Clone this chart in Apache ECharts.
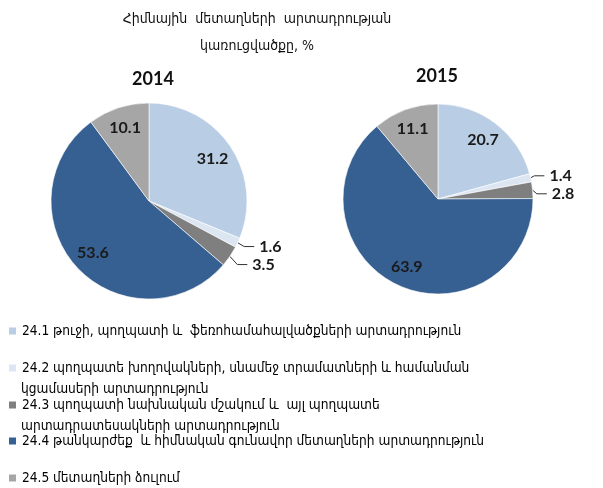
<!DOCTYPE html>
<html>
<head>
<meta charset="utf-8">
<script src="https://cdn.jsdelivr.net/npm/echarts@6/dist/echarts.min.js"></script>
<style>
  html, body { margin: 0; padding: 0; background: #fff; }
  #chart { width: 603px; height: 488px; }
</style>
</head>
<body>
<div id="chart"></div>
<script>
// categories (legend text, '\n' marks where the legend wraps)
const categories = [
  '24.1 թուջի, պողպատի և  ֆեռոհամահալվածքների արտադրություն',
  '24.2 պողպատե խողովակների, սնամեջ տրամատների և համանման\nկցամասերի արտադրություն',
  '24.3 պողպատի նախնական մշակում և  այլ պողպատե\nարտադրատեսակների արտադրություն',
  '24.4 թանկարժեք  և հիմնական գունավոր մետաղների արտադրություն',
  '24.5 մետաղների ձուլում'
]
const years = ['2014', '2015']
const values2014 = [31.2, 1.6, 3.5, 53.6, 10.1]
const values2015 = [20.7, 1.4, 2.8, 63.9, 11.1]
const colorList = ['#b9cde5', '#dce6f2', '#7f7f7f', '#376092', '#a6a6a6']

const armFont = 'DejaVu Sans Condensed'
const numFont = 'Lato'

// small slices get an outside label with a leader line
const isSmall = v => v < 5

function pieData (values) {
  return values.map((v, i) => ({
    name: categories[i],
    value: v,
    itemStyle: { color: colorList[i] }
  }))
}

function labelData (values) {
  return values.map((v, i) => ({
    name: categories[i],
    value: v,
    label: isSmall(v)
      ? { show: true, position: 'outside' }
      : { show: true, position: 'inside' },
    labelLine: { show: isSmall(v) }
  }))
}

function pieSeries (values, center, r) {
  return [
    {
      name: 'base',
      type: 'pie',
      center: center,
      radius: [0, r],
      startAngle: 90,
      clockwise: true,
      silent: true,
      label: { show: false },
      labelLine: { show: false },
      itemStyle: { borderColor: '#fff', borderWidth: 0.6 },
      data: pieData(values)
    },
    {
      // transparent outer ring only carries the labels, so inside labels sit near 3/4 radius
      name: 'labels',
      type: 'pie',
      center: center,
      radius: [r * 0.5, r],
      startAngle: 90,
      clockwise: true,
      silent: true,
      legendHoverLink: false,
      itemStyle: { color: 'rgba(0,0,0,0)', borderWidth: 0 },
      label: {
        formatter: p => p.value.toFixed(1),
        color: '#1a1a1a',
        fontFamily: numFont,
        fontSize: 16,
        fontWeight: 'bold'
      },
      labelLine: {
        length: 9,
        length2: 10,
        lineStyle: { color: '#333', width: 1 }
      },
      data: labelData(values)
    }
  ]
}

const legendTops = [324, 361, 398, 434, 471]

const chart = echarts.init(document.getElementById('chart'))
chart.setOption({
  backgroundColor: '#fff',
  animation: false,
  title: [
    {
      text: 'Հիմնային  մետաղների  արտադրության\nկառուցվածքը, %',
      left: 257,
      top: 6,
      padding: 0,
      textAlign: 'center',
      textStyle: { fontFamily: armFont, fontSize: 14, fontWeight: 'normal', color: '#111', lineHeight: 27 }
    },
    {
      text: years[0], left: 153, top: 70, padding: 0, textAlign: 'center',
      textStyle: { fontFamily: numFont, fontSize: 18, fontWeight: 'bold', color: '#111' }
    },
    {
      text: years[1], left: 437, top: 67, padding: 0, textAlign: 'center',
      textStyle: { fontFamily: numFont, fontSize: 18, fontWeight: 'bold', color: '#111' }
    }
  ],
  legend: categories.map((c, i) => ({
    data: [{ name: c, itemStyle: { color: colorList[i] } }],
    left: 7,
    top: legendTops[i],
    padding: 0,
    icon: 'rect',
    itemWidth: 9,
    itemHeight: 9,
    selectedMode: false,
    formatter: name => name.split('\n')[0],
    textStyle: { fontFamily: armFont, fontSize: 13.6, color: '#000' }
  })),
  graphic: categories.map((c, i) => {
    const parts = c.split('\n')
    if (parts.length < 2) return null
    return {
      type: 'text',
      left: 21,
      top: legendTops[i] + 21,
      style: { text: parts[1], font: '13.6px "DejaVu Sans Condensed"', fill: '#000' }
    }
  }).filter(Boolean),
  series: [
    ...pieSeries(values2014, [149, 201], 98),
    ...pieSeries(values2015, [438, 199], 95)
  ]
})
</script>
</body>
</html>
